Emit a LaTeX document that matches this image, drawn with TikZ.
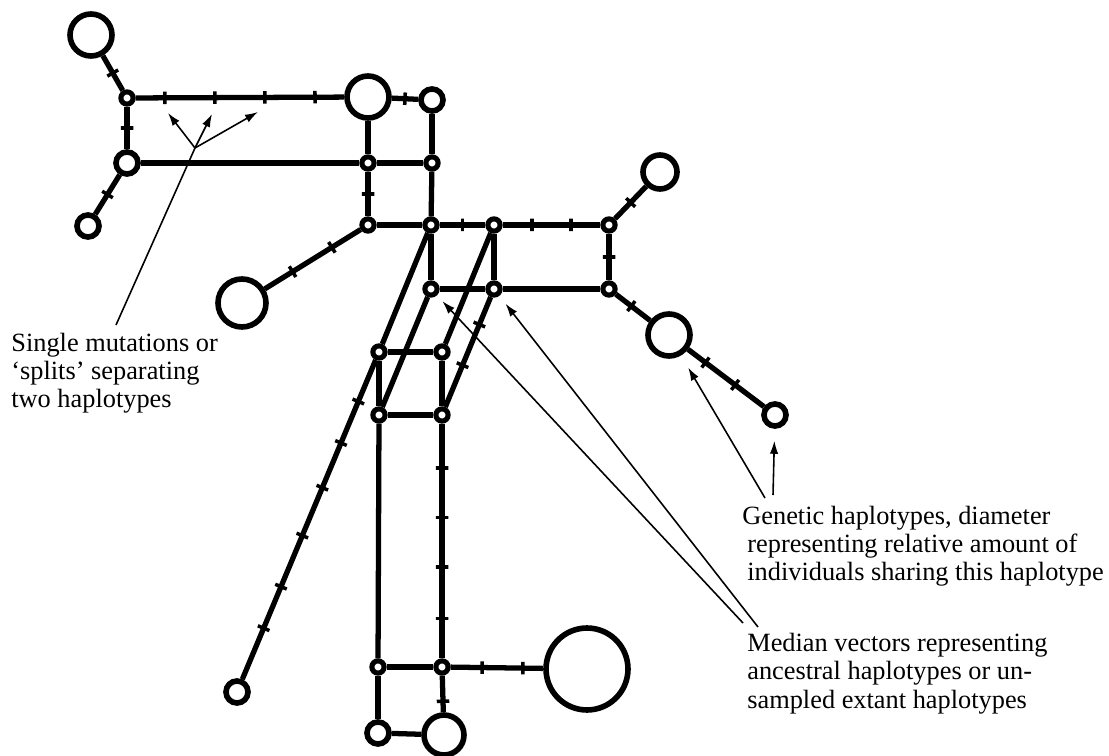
\documentclass[tikz,border=0pt]{standalone}
\usepackage{fontspec}
\setmainfont{Liberation Serif}
\usetikzlibrary{arrows.meta}
\newcommand{\muts}[3]{\foreach \p in {#3} \path (#1) -- (#2) node[mut, pos=\p] {};}

\begin{document}
\begin{tikzpicture}[x=0.02cm, y=-0.02cm,
  hap/.style={circle, draw, line width=3.2pt, fill=white, inner sep=0pt, minimum size=#1*0.04cm},
  med/.style={circle, draw, line width=2.9pt, fill=white, inner sep=0pt, minimum size=0.245cm},
  link/.style={line width=3pt},
  mut/.style={draw, sloped, rectangle, line width=2pt, inner sep=0pt, minimum width=0pt, minimum height=0.25cm},
  note/.style={line width=0.9pt, -{Latex[length=0.26cm, width=0.17cm]}},
  notetext/.style={align=left, inner sep=0pt, font=\fontsize{15pt}{16pt}\selectfont}]
\useasboundingbox (0,0) rectangle (1109,756);

% haplotypes
\node[hap=21] (h1) at (91,35) {};
\node[hap=21] (h2) at (368,97) {};
\node[hap=11] (h3) at (432,100) {};
\node[hap=11] (h4) at (127,163) {};
\node[hap=11] (h5) at (88,226) {};
\node[hap=24] (h6) at (242,303) {};
\node[hap=17] (h7) at (660,172) {};
\node[hap=21] (h8) at (669,335) {};
\node[hap=11] (h9) at (775,415) {};
\node[hap=11] (h10) at (237,692) {};
\node[hap=41] (h11) at (587,669) {};
\node[hap=11] (h12) at (378,733) {};
\node[hap=20] (h13) at (444,735) {};

% median vectors
\node[med] (m1) at (127,98) {};
\node[med] (m2) at (368,163) {};
\node[med] (m3) at (432,163) {};
\node[med] (m4) at (368,225) {};
\node[med] (m5) at (431,225) {};
\node[med] (m6) at (494,225) {};
\node[med] (m7) at (609,225) {};
\node[med] (m8) at (609,289) {};
\node[med] (m9) at (431,289) {};
\node[med] (m10) at (494,289) {};
\node[med] (m11) at (379,352) {};
\node[med] (m12) at (442,352) {};
\node[med] (m13) at (379,415) {};
\node[med] (m14) at (442,415) {};
\node[med] (m15) at (378,667) {};
\node[med] (m16) at (442,667) {};

\foreach \a/\b in {h1/m1, m1/h2, h2/h3, m1/h4, h4/h5, h4/m2, h2/m2, h3/m3, m2/m3,
    m2/m4, m3/m5, m4/m5, m4/h6, m5/m6, m6/m7, m7/h7, m7/m8, m8/h8, h8/h9,
    m5/m9, m6/m10, m9/m10, m10/m8, m5/m11, m11/h10, m9/m13, m6/m12, m10/m14,
    m11/m12, m11/m13, m12/m14, m13/m14, m13/m15, m14/m16, m15/m16,
    m16/h11, m15/h12, m16/h13, h12/h13}
  \draw[link] (\a) -- (\b);

% mutations
\muts{h1}{m1}{0.5}
\muts{m1}{h2}{0.14,0.38,0.62,0.86}
\muts{h2}{h3}{0.5}
\muts{m1}{h4}{0.5}
\muts{h4}{h5}{0.5}
\muts{m2}{m4}{0.5}
\muts{m4}{h6}{0.3,0.71}
\muts{m5}{m6}{0.5}
\muts{m6}{m7}{0.3,0.7}
\muts{m7}{h7}{0.5}
\muts{m7}{m8}{0.5}
\muts{m8}{h8}{0.45}
\muts{h8}{h9}{0.23,0.62}
\muts{m10}{m14}{0.25,0.62}
\muts{m11}{h10}{0.13,0.26,0.4,0.55,0.71,0.84}
\muts{m14}{m16}{0.19,0.4,0.61,0.83}
\muts{m16}{h11}{0.34,0.78}
\muts{m16}{h13}{0.7}

% notes
\node[notetext, anchor=base west] (txtsplit) at (11,408) {Single mutations or\\‘splits’ separating\\two haplotypes};
\node[notetext, anchor=base west] (txthap) at (742,581) {Genetic haplotypes, diameter\\\hspace*{0.1cm}representing relative amount of\\\hspace*{0.1cm}individuals sharing this haplotype};
\node[notetext, anchor=base west] (txtmed) at (747,708) {Median vectors representing\\ancestral haplotypes or un-\\sampled extant haplotypes};

\coordinate (sm) at (116,325);
\coordinate (hub) at (195,148);
\coordinate (t1) at (168,113);
\coordinate (t2) at (212,114);
\coordinate (t3) at (258,112);
\draw[line width=0.9pt] (sm) -- (hub);
\foreach \t in {t1,t2,t3}
  \draw[note] (hub) -- (\t);

\coordinate (gh1) at (765,498);
\coordinate (gh2) at (773,495);
\draw[note, shorten >=0.28cm] (gh1) -- (h8);
\draw[note, shorten >=0.24cm] (gh2) -- (h9);

\coordinate (mv1) at (743,623);
\coordinate (mv2) at (758,627);
\draw[note, shorten >=0.16cm] (mv1) -- (m9);
\draw[note, shorten >=0.2cm] (mv2) -- (m10);

\end{tikzpicture}
\end{document}
